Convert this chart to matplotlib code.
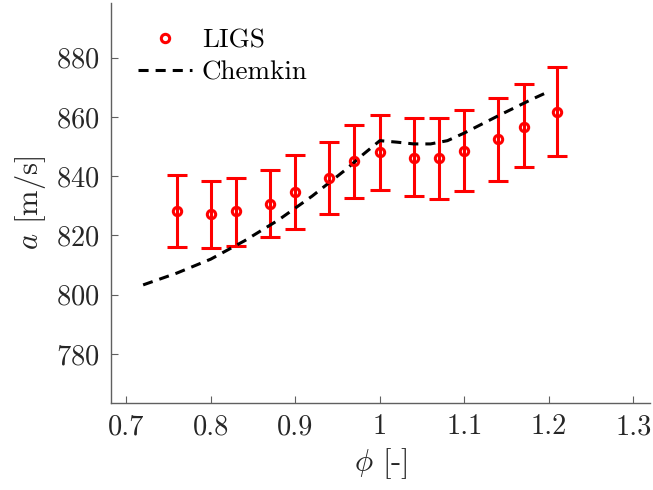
import numpy as np
import matplotlib
matplotlib.use("Agg")
import matplotlib.pyplot as plt
from matplotlib.lines import Line2D

# LIGS measurements: equivalence ratio, sound speed and error bar ends
phi_ligs = [0.76, 0.80, 0.83, 0.87, 0.90, 0.94, 0.97, 1.00, 1.04, 1.07, 1.10, 1.14, 1.17, 1.21]
a_ligs = [828.2, 827.3, 828.2, 830.7, 834.6, 839.5, 845.1, 848.1, 846.3, 846.0, 848.5, 852.4, 856.7, 861.8]
a_hi = [840.4, 838.5, 839.4, 842.1, 847.1, 851.7, 857.2, 860.5, 859.7, 859.7, 862.5, 866.5, 871.0, 877.0]
a_lo = [816.2, 815.6, 816.6, 819.6, 822.3, 827.4, 832.8, 835.4, 833.3, 832.4, 834.9, 838.3, 843.0, 846.8]

# Chemkin prediction
phi_ck = [0.72, 0.76, 0.80, 0.84, 0.88, 0.92, 0.96, 0.98, 1.00, 1.02, 1.04, 1.06, 1.08,
          1.10, 1.12, 1.14, 1.16, 1.18, 1.20]
a_ck = [803.3, 807.3, 812.0, 818.2, 825.2, 833.3, 842.3, 847.3, 852.0, 851.5, 850.9, 850.9,
        852.0, 854.6, 857.5, 860.4, 863.2, 866.0, 868.6]

plt.rcParams["font.family"] = ["cmr10", "DejaVu Serif"]
plt.rcParams["mathtext.fontset"] = "cm"
plt.rcParams["axes.formatter.use_mathtext"] = True

RED = "#ff0000"
fig = plt.figure(figsize=(6.53, 4.90), dpi=100)
ax = fig.add_axes([0.170, 0.178, 0.826, 0.816])

a_ligs = np.array(a_ligs)
yerr = [a_ligs - np.array(a_lo), np.array(a_hi) - a_ligs]
ax.errorbar(phi_ligs, a_ligs, yerr=yerr, fmt="o", color=RED, mfc="none",
            ms=6, mew=2.2, elinewidth=2.2, capsize=7.5, capthick=2.2)
ax.plot(phi_ck, a_ck, color="black", lw=2.2, linestyle=(0, (3.3, 2.3)))

ax.set_xlim(0.682, 1.32)
ax.set_ylim(763.5, 898.5)
ax.set_xticks([0.7, 0.8, 0.9, 1.0, 1.1, 1.2, 1.3])
ax.set_xticklabels(["0.7", "0.8", "0.9", "1", "1.1", "1.2", "1.3"])
ax.set_yticks([780, 800, 820, 840, 860, 880])

for side in ("top", "right"):
    ax.spines[side].set_visible(False)
for side in ("left", "bottom"):
    ax.spines[side].set_color("#606060")
    ax.spines[side].set_linewidth(1.0)
ax.tick_params(direction="in", length=5, width=0.8, color="#606060",
               labelsize=20.5, labelcolor="#262626", pad=8)

ax.set_xlabel(r"$\phi$ [-]", fontsize=22, color="#262626", labelpad=4)
ax.set_ylabel(r"$a$ [m/s]", fontsize=22, color="#262626", labelpad=6)

handles = [
    Line2D([], [], linestyle="none", marker="o", color=RED, mfc="none", ms=6, mew=2.2),
    Line2D([], [], color="black", lw=2.2, linestyle=(0, (3.3, 2.3))),
]
ax.legend(handles, ["LIGS", "Chemkin"], loc="upper left", bbox_to_anchor=(0.005, 0.998),
          frameon=False, fontsize=19.5, handlelength=2.0, handletextpad=0.35,
          labelspacing=0.3)

fig.savefig("out.png", dpi=100)
